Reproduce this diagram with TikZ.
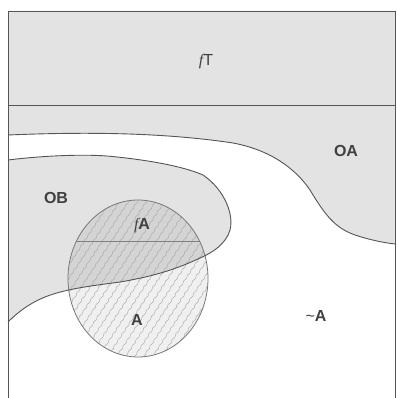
\documentclass[tikz,border=0pt]{standalone}
\usepackage{fontspec}
\setmainfont{Liberation Sans}
\newfontfamily\serifit{Liberation Serif}
\usetikzlibrary{decorations.pathmorphing}
\definecolor{regfill}{HTML}{E3E3E3}
\definecolor{ovfill}{HTML}{D4D4D4}
\definecolor{cfill}{HTML}{F0F0F0}
\definecolor{edge}{HTML}{555555}
\definecolor{txt}{HTML}{404040}
\definecolor{hatchc}{HTML}{A8A8A8}
\tikzset{
  bound/.style={draw=edge, line width=0.9pt},
  lbl/.style={text=txt, font=\fontsize{16}{18}\selectfont\bfseries, inner sep=0pt},
  hatchline/.style={draw=hatchc, line width=0.45pt, decorate,
    decoration={snake, segment length=7pt, amplitude=0.6pt}},
}
\def\oacurve{(395.5,244) .. controls (385,243) and (370,240) .. (355,235) .. controls (335,228) and (325,215) .. (310,190) .. controls (295,168) and (270,150) .. (233,143) .. controls (160,132) and (80,132) .. (8,135)}
\def\obcurve{(8,160) .. controls (40,156) and (80,154) .. (107,156) .. controls (140,159) and (180,165) .. (203,175) .. controls (225,190) and (234,215) .. (230,230) .. controls (226,244) and (212,253) .. (200,258) .. controls (175,270) and (150,277) .. (120,282) .. controls (90,286) and (65,289) .. (45,297) .. controls (30,303) and (18,312) .. (8,322)}
\begin{document}
\begin{tikzpicture}[x=1pt, y=-1pt]
\useasboundingbox (0,0) rectangle (396,398);
% OA + top band
\fill[regfill] (8,11) -- (395.5,11) -- \oacurve -- cycle;
% OB
\fill[regfill] \obcurve -- cycle;
% ellipse fills
\fill[cfill] (138,278.5) ellipse [x radius=70, y radius=78.5];
\begin{scope}
  \clip \obcurve -- cycle;
  \fill[ovfill] (138,278.5) ellipse [x radius=70, y radius=78.5];
\end{scope}
\begin{scope}
  \clip (138,278.5) ellipse [x radius=70, y radius=78.5];
  \foreach \i in {-60,-51,...,220} {
    \draw[hatchline] (\i,365) -- (\i+115,190);
  }
\end{scope}
% outlines
\draw[draw=edge!80, line width=0.8pt] (138,278.5) ellipse [x radius=70, y radius=78.5];
\draw[draw=edge!75, line width=0.8pt] (76.5,241) -- (199.5,241);
\draw[bound] (8,398) -- (8,11) -- (395.5,11) -- (395.5,398);
\draw[bound] (8,105) -- (395.5,105);
\draw[bound] \oacurve;
\draw[bound] \obcurve;
% labels
\node[lbl] (fT) at (206,62) {{\serifit\itshape\mdseries f}\mdseries T};
\node[lbl] (OA) at (346,151) {OA};
\node[lbl] (OB) at (56,198) {OB};
\node[lbl] (fA) at (142,226) {{\serifit\itshape\mdseries f}A};
\node[lbl] (A) at (137,320) {A};
\node[lbl] (nA) at (316,316) {{\mdseries\textasciitilde}A};
\end{tikzpicture}
\end{document}
